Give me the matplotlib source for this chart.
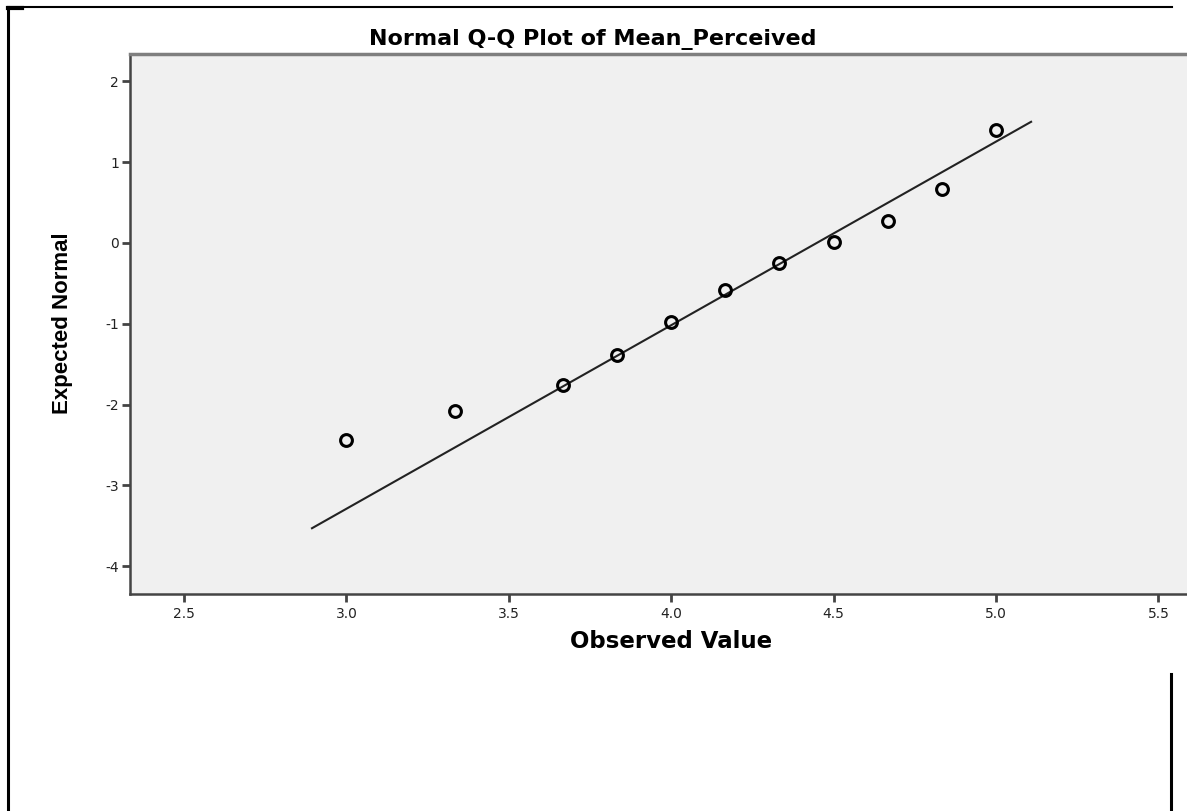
import numpy as np
import matplotlib
matplotlib.use("Agg")
import matplotlib.pyplot as plt
from matplotlib.lines import Line2D

# observed values and their expected normal scores
observed = [3.0, 3.333, 3.667, 3.833, 4.0, 4.167, 4.333, 4.5, 4.667, 4.833, 5.0]
expected = [-2.44, -2.08, -1.76, -1.39, -0.98, -0.58, -0.25, 0.01, 0.27, 0.67, 1.40]

# reference line end points
line_x = [2.894, 5.108]
line_y = [-3.53, 1.50]

x_ticks = [2.5, 3.0, 3.5, 4.0, 4.5, 5.0, 5.5]
y_ticks = [-4, -3, -2, -1, 0, 1, 2]

W, H = 1187, 811
fig = plt.figure(figsize=(W / 100, H / 100), dpi=100)

# axes runs off the right edge of the page
ax = fig.add_axes([130 / W, (H - 594) / H, (1200 - 130) / W, (594 - 54) / H])
ax.set_facecolor("#f0f0f0")
ax.set_xlim(2.3337, 5.628)
ax.set_ylim(-4.344, 2.339)

ax.plot(line_x, line_y, color="#222222", lw=1.5, zorder=2)
ax.plot(observed, expected, "o", ms=8.5, mfc="none", mec="black", mew=2.2, zorder=3)

ax.set_xticks(x_ticks)
ax.set_xticklabels([f"{v:.1f}" for v in x_ticks])
ax.set_yticks(y_ticks)
ax.set_yticklabels([str(v) for v in y_ticks])
ax.tick_params(direction="out", length=6, width=2, color="#444444",
               labelsize=10, labelcolor="#222222", pad=3)
ax.tick_params(axis="y", pad=2)

ax.spines["right"].set_visible(False)
ax.spines["top"].set_color("#7f7f7f")
ax.spines["top"].set_linewidth(2.5)
for s in ("left", "bottom"):
    ax.spines[s].set_color("#444444")
    ax.spines[s].set_linewidth(1.8)

fig.text(593 / W, 1 - 40 / H, "Normal Q-Q Plot of Mean_Perceived",
         ha="center", va="center", fontsize=16, fontweight="bold")
fig.text(671 / W, 1 - 641 / H, "Observed Value",
         ha="center", va="center", fontsize=16.5, fontweight="bold")
fig.text(63 / W, 1 - 323 / H, "Expected Normal", rotation=90,
         ha="center", va="center", fontsize=16, fontweight="bold",
         family=["Liberation Sans Narrow", "Liberation Sans", "DejaVu Sans"])

# page border pieces
def px_line(x0, y0, x1, y1, lw):
    fig.add_artist(Line2D([x0 / W, x1 / W], [1 - y0 / H, 1 - y1 / H],
                          color="black", lw=lw, transform=fig.transFigure))

px_line(8, 7, 1172, 7, 1.5)
px_line(8, 8, 22, 8, 3)
px_line(8, 7, 8, H, 2.2)
px_line(1171, 674, 1171, H, 2.2)

fig.savefig("out.png", dpi=100)
